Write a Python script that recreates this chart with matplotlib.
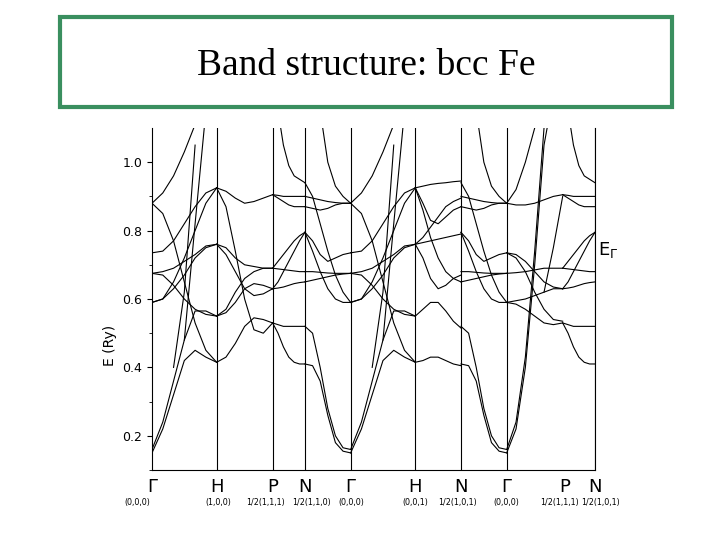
import numpy as np
import matplotlib
matplotlib.use("Agg")
import matplotlib.pyplot as plt
from matplotlib.patches import Rectangle

nan = np.nan
# k-path
path_labels = ["Γ", "H", "P", "N", "Γ", "H", "N", "Γ", "P", "N"]
path_coords = ["(0,0,0)", "(1,0,0)", "1/2(1,1,1)", "1/2(1,1,0)", "(0,0,0)",
               "(0,0,1)", "1/2(1,0,1)", "(0,0,0)", "1/2(1,1,1)", "1/2(1,0,1)"]
coord_px = [137, 218, 266, 312, 351, 415, 458, 506, 560, 601]
seg_lengths = [1.0, 0.866, 0.5, 0.707, 1.0, 0.707, 0.707, 0.866, 0.5]
seg_names = ["GH", "HP", "PN", "NG", "GH", "HN", "NG", "GP", "PN"]
vline_nodes = [1, 2, 3, 4, 5, 6, 7, 9]

# band energies (Ry) sampled at 7 equally spaced points along each segment
bands_GH = [
    [0.15, 0.22, 0.32, 0.42, 0.45, 0.43, 0.415],
    [0.16, 0.24, 0.36, 0.48, 0.565, 0.565, 0.55],
    [nan, nan, nan, 0.48, 0.82, 1.15, nan],
    [nan, nan, 0.40, 0.62, 1.05, nan, nan],
    [0.88, 0.91, 0.96, 1.03, 1.11, nan, nan],
    [0.88, 0.85, 0.77, 0.65, 0.53, 0.45, 0.415],
    [0.735, 0.74, 0.77, 0.82, 0.87, 0.91, 0.925],
    [0.59, 0.60, 0.65, 0.72, 0.80, 0.88, 0.925],
    [0.59, 0.60, 0.63, 0.67, 0.72, 0.75, 0.76],
    [0.675, 0.68, 0.69, 0.71, 0.73, 0.755, 0.76],
    [0.675, 0.67, 0.64, 0.60, 0.57, 0.555, 0.55],
]
bands_HP = [
    [0.925, 0.915, 0.895, 0.88, 0.885, 0.895, 0.905],
    [0.925, 0.87, 0.74, 0.60, 0.51, 0.50, 0.53],
    [0.76, 0.75, 0.72, 0.70, 0.695, 0.69, 0.69],
    [0.76, 0.73, 0.68, 0.63, 0.61, 0.615, 0.63],
    [0.55, 0.56, 0.59, 0.63, 0.645, 0.64, 0.63],
    [0.415, 0.43, 0.47, 0.52, 0.545, 0.54, 0.53],
    [0.55, 0.57, 0.62, 0.66, 0.68, 0.69, 0.69],
]
bands_PN = [
    [0.905, 0.903, 0.90, 0.90, 0.90, 0.90, 0.90],
    [0.905, 0.895, 0.885, 0.875, 0.87, 0.87, 0.87],
    [0.69, 0.688, 0.686, 0.684, 0.682, 0.68, 0.68],
    [0.63, 0.65, 0.68, 0.71, 0.74, 0.77, 0.795],
    [0.63, 0.632, 0.635, 0.64, 0.645, 0.648, 0.65],
    [0.53, 0.525, 0.52, 0.52, 0.52, 0.52, 0.52],
    [0.53, 0.50, 0.46, 0.43, 0.415, 0.41, 0.41],
    [0.69, 0.71, 0.73, 0.75, 0.77, 0.785, 0.795],
    [nan, 1.15, 1.05, 0.99, 0.96, 0.95, 0.94],
]
bands_NG = [
    [0.41, 0.405, 0.36, 0.26, 0.18, 0.155, 0.15],
    [0.52, 0.50, 0.40, 0.28, 0.20, 0.165, 0.16],
    [0.94, 0.90, 0.82, 0.74, 0.67, 0.62, 0.59],
    [0.90, 0.895, 0.89, 0.885, 0.882, 0.88, 0.88],
    [0.87, 0.865, 0.86, 0.865, 0.875, 0.88, 0.88],
    [0.795, 0.74, 0.68, 0.63, 0.60, 0.59, 0.59],
    [0.795, 0.77, 0.73, 0.71, 0.72, 0.73, 0.735],
    [0.68, 0.68, 0.678, 0.676, 0.675, 0.675, 0.675],
    [0.65, 0.655, 0.66, 0.665, 0.67, 0.673, 0.675],
    [nan, nan, 1.15, 1.0, 0.93, 0.90, 0.88],
]
bands_HN = [
    [0.925, 0.93, 0.935, 0.938, 0.94, 0.943, 0.945],
    [0.76, 0.765, 0.77, 0.775, 0.78, 0.785, 0.79],
    [0.925, 0.88, 0.83, 0.82, 0.84, 0.86, 0.87],
    [0.76, 0.72, 0.66, 0.63, 0.64, 0.66, 0.67],
    [0.55, 0.57, 0.59, 0.59, 0.565, 0.535, 0.515],
    [0.415, 0.42, 0.43, 0.43, 0.42, 0.41, 0.405],
    [0.925, 0.86, 0.78, 0.72, 0.68, 0.66, 0.65],
    [0.76, 0.78, 0.81, 0.84, 0.87, 0.885, 0.895],
]
bands_GP = [
    [0.15, 0.22, 0.40, 0.70, 1.05, 1.2, nan],
    [0.16, 0.24, 0.43, 0.74, 1.10, nan, nan],
    [0.88, 0.875, 0.875, 0.88, 0.89, 0.90, 0.905],
    [0.88, 0.92, 1.0, 1.1, nan, nan, nan],
    [0.735, 0.72, 0.68, 0.62, 0.57, 0.54, 0.535],
    [0.735, 0.73, 0.71, 0.68, 0.65, 0.635, 0.63],
    [0.675, 0.677, 0.68, 0.685, 0.69, 0.69, 0.69],
    [0.59, 0.585, 0.57, 0.55, 0.53, 0.525, 0.53],
    [0.59, 0.595, 0.60, 0.61, 0.62, 0.63, 0.63],
    [nan, nan, nan, nan, 0.62, 0.75, 0.90],
]
band_tables = {"GH": bands_GH, "HP": bands_HP, "PN": bands_PN, "NG": bands_NG,
               "HN": bands_HN, "GP": bands_GP}
y_ticks = [0.2, 0.4, 0.6, 0.8, 1.0]

fig = plt.figure(figsize=(7.2, 5.4), dpi=100)
fig.patch.set_facecolor("white")

# title box
fig.patches.append(Rectangle((60/720, 1-107/540), 612/720, 90/540, transform=fig.transFigure,
                             fill=False, edgecolor="#3a8f5f", linewidth=3))
fig.text(366/720, 1-66/540, "Band structure: bcc Fe", ha="center", va="center",
         fontsize=27, family=["Liberation Serif", "DejaVu Serif"])

ax = fig.add_axes([152/720, 1-470/540, 443/720, 342/540])
nodes = np.concatenate([[0], np.cumsum(seg_lengths)])
for i, name in enumerate(seg_names):
    t = np.linspace(nodes[i], nodes[i+1], 7)
    for b in band_tables[name]:
        ax.plot(t, b, color="black", lw=0.8)
for n in vline_nodes:
    ax.axvline(nodes[n], color="black", lw=0.8)
ax.set_xlim(nodes[0], nodes[-1])
ax.set_ylim(0.10, 1.10)
ax.set_yticks(y_ticks)
ax.set_yticklabels([f"{v:.1f}" for v in y_ticks], fontsize=9)
ax.set_yticks(np.arange(0.1, 1.1, 0.1), minor=True)
ax.set_xticks([])
ax.spines["top"].set_visible(False)
for s in ax.spines.values():
    s.set_linewidth(0.8)

for x, lab, c, cpx in zip(nodes, path_labels, path_coords, coord_px):
    fx = (152 + x / nodes[-1] * 443) / 720
    if lab == "P" and x > 5:
        fx = 565/720
    fig.text(fx, 1-487/540, lab, ha="center", va="center", fontsize=13)
    fig.text(cpx/720, 1-503/540, c, ha="center", va="center", fontsize=5.8)

fig.text(110/720, 1-345/540, "E (Ry)", rotation=90, ha="center", va="center", fontsize=10)
fig.text(598/720, 1-250/540, "E$_\\Gamma$", ha="left", va="center", fontsize=13)

fig.savefig("out.png", dpi=100)
